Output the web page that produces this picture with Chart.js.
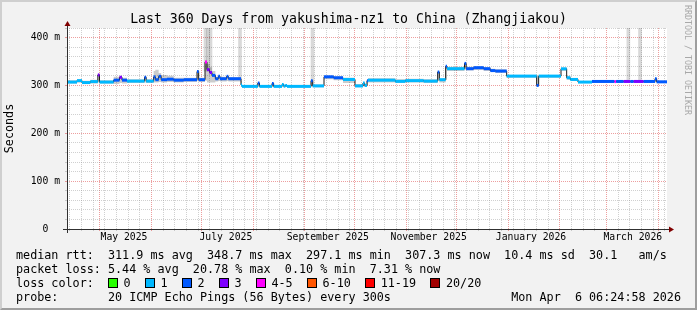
<!DOCTYPE html>
<html><head><meta charset="utf-8">
<script src="https://cdn.jsdelivr.net/npm/chart.js@4.4.1/dist/chart.umd.min.js"></script>
<style>
html,body{margin:0;padding:0;background:#F2F2F2;}
#wrap{position:relative;width:697px;height:310px;background:#F2F2F2;overflow:hidden;font-family:"DejaVu Sans Mono",monospace;color:#000;}
#frame{position:absolute;left:0;top:0;width:697px;height:310px;box-sizing:border-box;border-top:2px solid #CFCFCF;border-left:2px solid #CFCFCF;border-right:2px solid #9E9E9E;border-bottom:2px solid #9E9E9E;pointer-events:none;}
canvas{position:absolute;left:0;top:0;}
.t{position:absolute;white-space:pre;font-size:11.75px;line-height:14px;}
#title{position:absolute;left:0;width:697px;top:11px;text-align:center;font-size:13.2px;line-height:16px;white-space:pre;}
#wm{position:absolute;left:683px;top:5px;writing-mode:vertical-rl;font-size:8.3px;color:#a8a8a8;white-space:pre;line-height:10px;}
#lc{position:absolute;left:108px;top:276px;height:14px;display:flex;align-items:center;font-size:11.75px;white-space:pre;}
.box{display:inline-block;width:8px;height:8px;border:1px solid #000;margin-right:5.5px;}
.lab{margin-right:14.4px;}
</style></head>
<body>
<div id="wrap">
  <canvas id="c" width="697" height="310"></canvas>
  <div id="title">Last 360 Days from yakushima-nz1 to China (Zhangjiakou)</div>
  <div id="wm">RRDTOOL / TOBI OETIKER</div>
  <div class="t" style="left:16px;top:248px">median rtt:  311.9 ms avg  348.7 ms max  297.1 ms min  307.3 ms now  10.4 ms sd  30.1   am/s</div>
  <div class="t" style="left:16px;top:262px">packet loss: 5.44 % avg  20.78 % max  0.10 % min  7.31 % now</div>
  <div class="t" style="left:16px;top:276px">loss color:</div>
  <div id="lc"></div>
  <div class="t" style="left:16px;top:290px">probe:       20 ICMP Echo Pings (56 Bytes) every 300s</div>
  <div class="t" style="right:16px;top:290px">Mon Apr  6 06:24:58 2026</div>
  <div id="frame"></div>
</div>
<script>
// ---- data (days since start of the 360-day window; values in ms) ----
const segStartDay = [0, 6, 9, 14, 18.5, 19.5, 28, 31.5, 33, 36, 46.5, 47.5, 52, 53, 55, 56.5, 60, 64, 70, 78, 79, 82.8, 84, 85.5, 87, 89, 90.8, 91.8, 95.8, 96.8, 104.4, 105, 114.5, 115.5, 123, 124, 129, 130, 131, 132, 146.4, 147.4, 154.2, 160, 165.6, 172.8, 177.6, 178.6, 180, 180.6, 197, 203, 214, 222.4, 223.4, 227.2, 228, 238.5, 239.5, 244, 250, 254, 257, 263.8, 281.8, 283, 296.4, 299.8, 302, 306.6, 315, 328.5, 329.5, 334, 338, 340, 346, 352.8, 353.8];
const medianMs = [307, 310, 306, 308, 322, 307, 311, 317, 311, 309, 317, 309, 318, 312, 319, 312, 313, 311, 312, 329, 312, 348.7, 333, 327, 321, 314, 319, 314, 319, 314, 301, 298, 305, 298, 304, 298, 302, 298.5, 300, 298, 310, 299, 318, 316, 312.5, 299, 305, 300, 310, 311, 308.5, 310, 309, 328, 312, 340, 335, 346, 335, 337, 335, 331, 330, 319.5, 300, 319.5, 334.7, 316, 312.5, 307, 308.3, 308, 308.3, 308.3, 308.3, 308.3, 308.3, 314, 307.5];
const lossBucket = [1, 1, 1, 1, 3, 1, 2, 3, 2, 1, 2, 1, 2, 2, 2, 2, 2, 2, 2, 2, 2, 4, 3, 3, 2, 2, 2, 2, 2, 2, 1, 1, 2, 1, 2, 1, 1, 1, 1, 1, 2, 1, 2, 2, 1, 1, 1, 1, 2, 1, 1, 1, 1, 2, 1, 2, 1, 2, 2, 2, 2, 2, 2, 1, 2, 1, 1, 1, 1, 1, 2, 4, 2, 3, 2, 3, 2, 2, 2];
const smokeLowMs = [304, 306, 303, 304, 306, 304, 303, 305, 304, 305, 306, 305, 306, 306, 307, 306, 307, 306, 307, 309, 307, 310, 306, 306, 306, 308, 309, 308, 309, 308, 297, 296, 297, 296, 297, 296, 297, 296, 297, 296, 298, 296, 313, 311, 305, 296, 298, 297, 300, 306, 305, 306, 305, 309, 306, 312, 330, 333, 331, 332, 330, 328, 326, 316, 298, 316, 330, 312, 309, 305, 306, 306, 306, 306, 306, 306, 306, 306, 305];
const smokeHighMs = [311, 313, 310, 312, 324, 311, 318, 320, 316, 313, 319, 313, 330, 333, 326, 322, 320, 316, 316, 331, 316, 352, 345, 338, 330, 318, 321, 318, 321, 317, 310, 301, 306, 301, 305, 301, 303, 301, 302, 300, 312, 302, 320, 319, 316, 303, 306, 303, 311, 315, 313, 314, 313, 330, 314, 341, 339, 347, 339, 340, 338, 335, 334, 322, 320, 322, 337, 320, 315, 309, 311, 311, 311, 311, 311, 311, 311, 315, 310];
const spikeDay = [83.1, 84.6, 86.1, 103.8, 147.3, 336.8, 343.8];
const spikeLowMs = [330, 330, 330, 312, 300, 310, 310];
const lossColors = ['#26ff00', '#00b8ff', '#0059ff', '#7e00ff', '#ff00ff', '#ff5500', '#ff0000', '#a10000'];
const lossLabels = ['0', '1', '2', '3', '4-5', '6-10', '11-19', '20/20'];
const monthStartDay = [19.73, 50.73, 80.73, 111.73, 142.73, 172.73, 203.73, 233.73, 264.73, 295.73, 323.73, 354.73];
const xLabelDay = [34.2, 95.3, 156.5, 217, 278.4, 339.5];
const xLabelText = ['May 2025', 'July 2025', 'September 2025', 'November 2025', 'January 2026', 'March 2026'];
const yTickMs = [0, 100, 200, 300, 400];
const yTickText = ['0  ', '100 m', '200 m', '300 m', '400 m'];
const END_DAY = 360, Y_MAX = 420;

// legend swatches
const lc = document.getElementById('lc');
lossLabels.forEach((l, i) => {
  const b = document.createElement('span'); b.className = 'box'; b.style.background = lossColors[i]; lc.appendChild(b);
  const s = document.createElement('span'); s.className = 'lab'; s.textContent = l; lc.appendChild(s);
});

const GRID = 'rgba(143,143,143,0.42)';
const MGRID = 'rgba(222,79,79,0.55)';
const weekDay = [];
for (let d = 1.73; d < END_DAY; d += 7) weekDay.push(+d.toFixed(2));
const xTickDays = [...new Set([...weekDay, ...monthStartDay, ...xLabelDay])].sort((a, b) => a - b);

const stepPts = vals => {
  const p = segStartDay.map((d, i) => ({x: d, y: vals[i]}));
  p.push({x: END_DAY, y: vals[vals.length - 1]});
  return p;
};
const colorPts = [];
segStartDay.forEach((d, i) => {
  const e = i + 1 < segStartDay.length ? segStartDay[i + 1] : END_DAY;
  colorPts.push({x: d, y: medianMs[i]}, {x: e, y: medianMs[i]}, {x: e, y: null});
});

const decor = {
  id: 'decor',
  beforeDraw(chart) {
    const {ctx, chartArea: a} = chart;
    ctx.save(); ctx.fillStyle = '#fff';
    ctx.fillRect(a.left, a.top, a.right - a.left, a.bottom - a.top);
    ctx.restore();
  },
  afterDraw(chart) {
    const {ctx, chartArea: a} = chart;
    const L = Math.round(a.left) + 0.5, B = Math.round(a.bottom) + 0.5, T = a.top, R = a.right;
    ctx.save();
    ctx.setLineDash([]);
    ctx.strokeStyle = '#303030'; ctx.lineWidth = 1;
    ctx.beginPath();
    ctx.moveTo(a.left - 4, B); ctx.lineTo(R + 4, B);
    ctx.moveTo(L, a.bottom + 4); ctx.lineTo(L, T - 4);
    ctx.stroke();
    ctx.fillStyle = '#800000';
    ctx.beginPath(); ctx.moveTo(R + 2, B - 3); ctx.lineTo(R + 2, B + 3); ctx.lineTo(R + 7, B); ctx.closePath(); ctx.fill();
    ctx.beginPath(); ctx.moveTo(L - 3, T - 2); ctx.lineTo(L + 3, T - 2); ctx.lineTo(L, T - 7); ctx.closePath(); ctx.fill();
    ctx.restore();
  }
};

const monoTick = {family: 'DejaVu Sans Mono', size: 9.75};

new Chart(document.getElementById('c'), {
  type: 'line',
  data: {
    datasets: [
      {type: 'bar', data: spikeDay.map((d, i) => ({x: d, y: [spikeLowMs[i], Y_MAX + 5]})),
       backgroundColor: 'rgba(0,0,0,0.15)', barThickness: 3, grouped: false, order: 9},
      {data: stepPts(smokeHighMs), stepped: true, borderWidth: 0, pointRadius: 0, fill: '+1',
       backgroundColor: 'rgba(0,0,0,0.2)', order: 8},
      {data: stepPts(smokeLowMs), stepped: true, borderWidth: 0, pointRadius: 0, fill: false, order: 8},
      {data: stepPts(medianMs), stepped: true, borderWidth: 1, borderColor: '#1a1a1a', pointRadius: 0, fill: false, order: 2},
      {data: colorPts, borderWidth: 3, pointRadius: 0, fill: false, spanGaps: false, borderCapStyle: 'butt', order: 1,
       borderColor: lossColors[1],
       segment: {borderColor: c => lossColors[lossBucket[Math.floor(c.p0DataIndex / 3)]]}}
    ]
  },
  options: {
    responsive: false, devicePixelRatio: 1, animation: false, events: [],
    layout: {padding: {left: 0, top: 28, right: 30, bottom: 61}},
    plugins: {legend: {display: false}, tooltip: {enabled: false}, title: {display: false}},
    scales: {
      x: {
        type: 'linear', min: 0, max: END_DAY, offset: false,
        afterBuildTicks: s => { s.ticks = xTickDays.map(v => ({value: v})); },
        afterFit: s => { s.height = 20; },
        grid: {
          offset: false, drawTicks: true, tickLength: 2, lineWidth: 1,
          color: c => {
            const v = c.tick ? c.tick.value : null;
            if (xLabelDay.includes(v)) return 'rgba(0,0,0,0)';
            if (monthStartDay.includes(v)) return MGRID;
            return GRID;
          }
        },
        border: {display: false, dash: [1, 1]},
        ticks: {
          autoSkip: false, maxRotation: 0, minRotation: 0, padding: 1, color: '#000', font: monoTick,
          callback: v => { const k = xLabelDay.indexOf(v); return k >= 0 ? xLabelText[k] : ''; }
        }
      },
      y: {
        type: 'linear', min: 0, max: Y_MAX,
        afterFit: s => { s.width = 67; },
        grid: {drawTicks: true, tickLength: 2, color: c => (c.tick && c.tick.value % 100 === 0) ? MGRID : GRID},
        border: {display: false, dash: [1, 1]},
        ticks: {
          autoSkip: false, stepSize: 20, padding: 5, color: '#000', font: monoTick,
          callback: v => { const k = yTickMs.indexOf(v); return k >= 0 ? yTickText[k] : ''; }
        },
        title: {display: true, text: 'Seconds', color: '#000', font: {family: 'DejaVu Sans Mono', size: 11.75}, padding: {top: 3, bottom: 0}}
      }
    }
  },
  plugins: [decor]
});
</script>
</body></html>
